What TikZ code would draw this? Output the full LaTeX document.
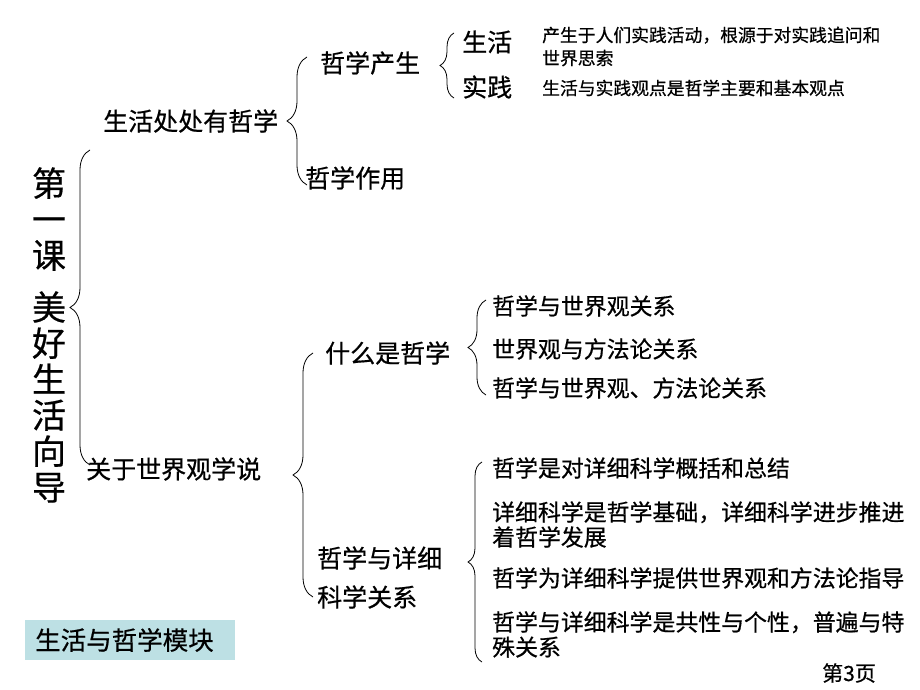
\documentclass[tikz,border=0pt]{standalone}
\usepackage{fontspec}
\setmainfont{Noto Sans CJK SC}[FakeBold=0.6]
\usetikzlibrary{positioning,decorations.pathreplacing}
\definecolor{boxblue}{RGB}{189,224,228}

\begin{document}
\begin{tikzpicture}[x=1pt,y=-1pt,
  lbl/.style={anchor=west,inner sep=0pt,align=left,font=\fontsize{25}{39}\selectfont},
  itm/.style={anchor=west,inner sep=0pt,align=left,font=\fontsize{22.9}{25}\selectfont},
  dsc/.style={anchor=west,inner sep=0pt,align=left,font=\fontsize{17.8}{23}\selectfont},
  brc/.style={decorate,decoration={brace,amplitude=#1},line width=0.8pt}]
  \useasboundingbox (0,0) rectangle (920,690);

  % title
  \node[inner sep=0pt,align=center,font=\fontsize{34}{36}\selectfont] (title) at (49,335)
    {第\\一\\课\\[16pt]美\\好\\生\\活\\向\\导};

  % first level
  \node[lbl] (life) at (103,121) {生活处处有哲学};
  \node[lbl] (world) at (86,469) {关于世界观学说};

  % second level
  \node[lbl] (origin) at (320,63) {哲学产生};
  \node[lbl] (role) at (305,178) {哲学作用};
  \node[lbl] (what) at (325,353) {什么是哲学};
  \node[lbl] (sci) at (317,577.5) {哲学与详细\\科学关系};

  % third level
  \node[lbl] (shenghuo) at (462,42) {生活};
  \node[lbl] (shijian) at (462,87) {实践};
  \node[dsc] (d1) at (542,46.5) {产生于人们实践活动，根源于对实践追问和\\世界思索};
  \node[dsc] (d2) at (542,88) {生活与实践观点是哲学主要和基本观点};

  \node[itm] (i1) at (492,306) {哲学与世界观关系};
  \node[itm] (i2) at (492,349) {世界观与方法论关系};
  \node[itm] (i3) at (492,388) {哲学与世界观、方法论关系};

  \node[itm] (j1) at (492,468) {哲学是对详细科学概括和总结};
  \node[itm] (j2) at (492,524.5) {详细科学是哲学基础，详细科学进步推进\\着哲学发展};
  \node[itm] (j3) at (492,578) {哲学为详细科学提供世界观和方法论指导};
  \node[itm] (j4) at (492,634.5) {哲学与详细科学是共性与个性，普遍与特\\殊关系};

  % module box and page number
  \node[anchor=west,fill=boxblue,inner xsep=10pt,inner ysep=0pt,minimum height=40pt,text width=190pt,
    font=\fontsize{25.5}{30}\selectfont] (module) at (25,640) {生活与哲学模块};
  \node[anchor=west,inner sep=0pt,font=\fontsize{21}{25}\selectfont] (page) at (822,673) {第3页};

  % braces
  \coordinate (b1t) at (90,150);   \coordinate (b1b) at (90,465);
  \coordinate (b2t) at (307,57);   \coordinate (b2b) at (307,185);
  \coordinate (b3t) at (454,33);   \coordinate (b3b) at (454,98);
  \coordinate (b4t) at (313,353);  \coordinate (b4b) at (313,597);
  \coordinate (b5t) at (486,300);  \coordinate (b5b) at (486,395);
  \coordinate (b6t) at (482,462);  \coordinate (b6b) at (482,662);
  \draw[brc=20] (b1b) -- (b1t);
  \draw[brc=20] (b2b) -- (b2t);
  \draw[brc=14] (b3b) -- (b3t);
  \draw[brc=20] (b4b) -- (b4t);
  \draw[brc=18] (b5b) -- (b5t);
  \draw[brc=14] (b6b) -- (b6t);
\end{tikzpicture}
\end{document}
